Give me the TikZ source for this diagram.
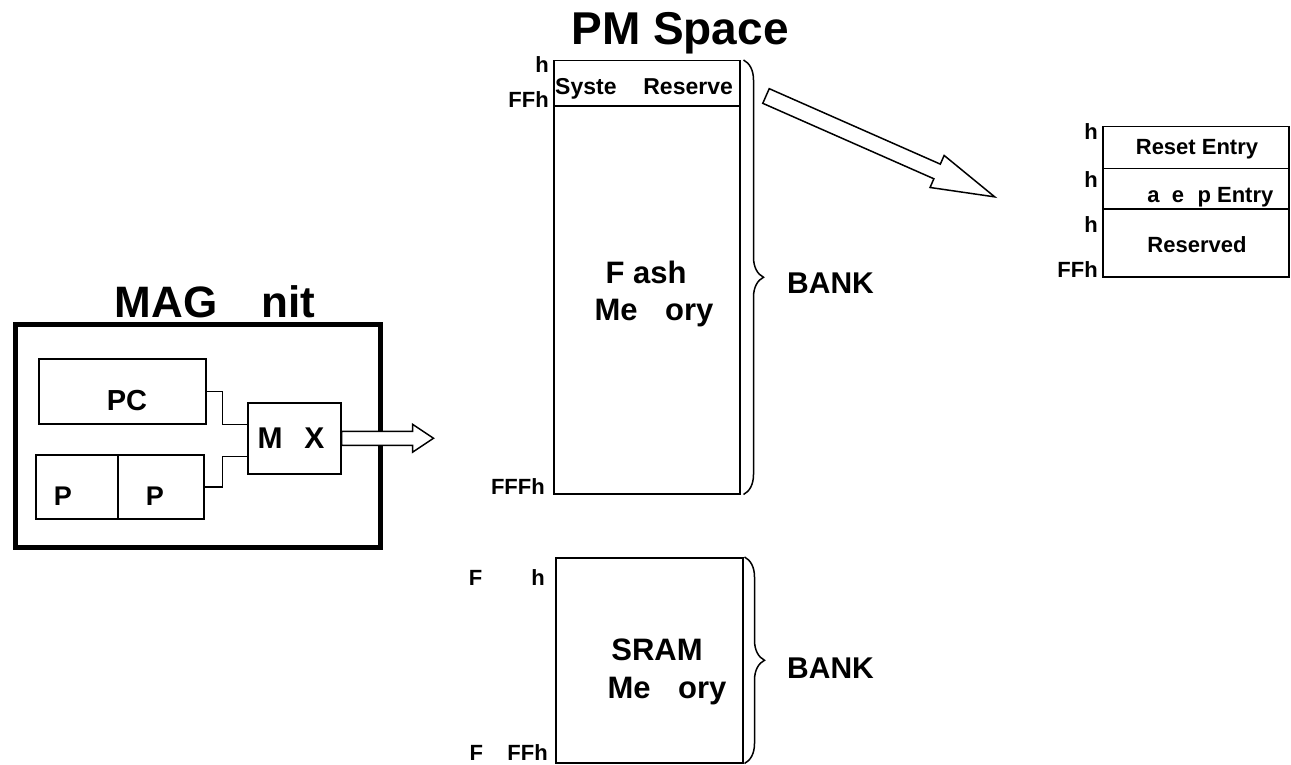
\documentclass[tikz,border=0pt]{standalone}
\usepackage{fontspec}
\setmainfont{Liberation Sans}
\usepackage{tikz}
\usetikzlibrary{decorations.pathreplacing}
\newcommand{\fsz}[1]{\fontsize{#1}{#1}\selectfont\bfseries}

\begin{document}
\begin{tikzpicture}[x=1pt, y=-1pt,
  box/.style={draw, line width=1.5pt, inner sep=0pt, anchor=north west},
  lbl/.style={inner sep=0pt, anchor=base, font=\fsz{31}},
  addr/.style={inner sep=0pt, anchor=base east, font=\fsz{22}},
  wire/.style={line width=1.5pt},
  hollow/.style={draw, fill=white, line width=1.5pt, line join=miter},
  brc/.style={decorate, decoration={brace, amplitude=20pt}, line width=1.5pt}]
\useasboundingbox (0,0) rectangle (1291,765);

% MAG unit
\node[lbl, font=\fsz{44}] (magtitle) at (215,317) {MAG \phantom{U}nit};
\node[box, line width=5pt, minimum width=365pt, minimum height=223pt] (mag) at (13,322) {};
\node[box, minimum width=167pt, minimum height=65pt] (pc) at (38,358) {};
\node[lbl, font=\fsz{29}] (pctxt) at (127,410) {PC};
\node[box, minimum width=82pt, minimum height=64pt] (pl) at (35,454) {};
\node[box, minimum width=86pt, minimum height=64pt] (pr) at (117,454) {};
\node[lbl, font=\fsz{27}] (pltxt) at (63,505) {P};
\node[lbl, font=\fsz{27}] (prtxt) at (155,505) {P};
\node[box, minimum width=93pt, minimum height=71pt] (mux) at (247,402) {};
\node[lbl, font=\fsz{30}] (muxtxt) at (291,448) {M\phantom{U}X};
\draw[wire] (pc.east) -- ++(16,0) |- ([yshift=14pt]mux.west);
\draw[wire] (pr.east) -- ++(18,0) |- ([yshift=-18pt]mux.west);
\draw[hollow] (mux.east) ++(0,-7) -- ++(71,0) -- ++(0,-7) -- ++(21,14)
  -- ++(-21,14) -- ++(0,-7) -- ++(-71,0) -- cycle;

% PM space
\node[lbl, font=\fsz{46}] (pmtitle) at (680,45) {PM Space};
\node[box, minimum width=186pt, minimum height=433pt] (flash) at (553,60) {};
\draw[wire] ([yshift=-46pt]flash.north west) -- ([yshift=-46pt]flash.north east);
\node[lbl, font=\fsz{23}, anchor=base west] (systxt) at (555,95) {Syste\phantom{m} Reserve};
\node[addr] (fla) at (549,73) {h};
\node[addr] (flb) at (549,108) {FFh};
\node[addr] (flc) at (545,494) {FFFh};
\node[lbl] (flashtxt) at (646,283) {F\phantom{l}ash};
\node[lbl] (flashmem) at (654,320) {Me\phantom{m}ory};
\draw[brc] ([xshift=3pt]flash.north east) -- ([xshift=3pt]flash.south east);
\node[lbl, font=\fsz{30}, anchor=base west] (banka) at (787,293) {BANK};

% SRAM
\node[box, minimum width=187pt, minimum height=205pt] (sram) at (555,557) {};
\node[lbl] (sramtxt) at (657,660) {SRAM};
\node[lbl] (srammem) at (667,698) {Me\phantom{m}ory};
\node[addr] (sra) at (545,585) {F\phantom{0000}h};
\node[addr] (srb) at (548,760) {F\phantom{00}FFh};
\draw[brc] ([xshift=1pt]sram.north east) -- ([xshift=1pt]sram.south east);
\node[lbl, font=\fsz{30}, anchor=base west] (bankb) at (787,678) {BANK};

% system reserved area
\begin{scope}[shift={(766,96)}, rotate=-23.8]
\draw[hollow] (0,-8) -- (187,-8) -- (187,-17.5) -- (250,0) -- (187,17.5) -- (187,8) -- (0,8) -- cycle;
\end{scope}
\node[box, minimum width=186pt, minimum height=42pt] (reset) at (1102,126) {};
\node[box, minimum width=186pt, minimum height=40pt] (wake) at (1102,168) {};
\node[box, minimum width=186pt, minimum height=68pt] (resv) at (1102,208) {};
\node[lbl, font=\fsz{22}] (resettxt) at (1197,155) {Reset Entry};
\node[lbl, font=\fsz{22}] (waketxt) at (1200,202) {\phantom{W}a\phantom{k}e\phantom{u}p Entry};
\node[lbl, font=\fsz{22}] (resvtxt) at (1197,252) {Reserved};
\node[addr] (ra) at (1098,140) {h};
\node[addr] (rb) at (1098,187) {h};
\node[addr] (rc) at (1098,233) {h};
\node[addr] (rd) at (1098,277) {FFh};
\end{tikzpicture}
\end{document}
